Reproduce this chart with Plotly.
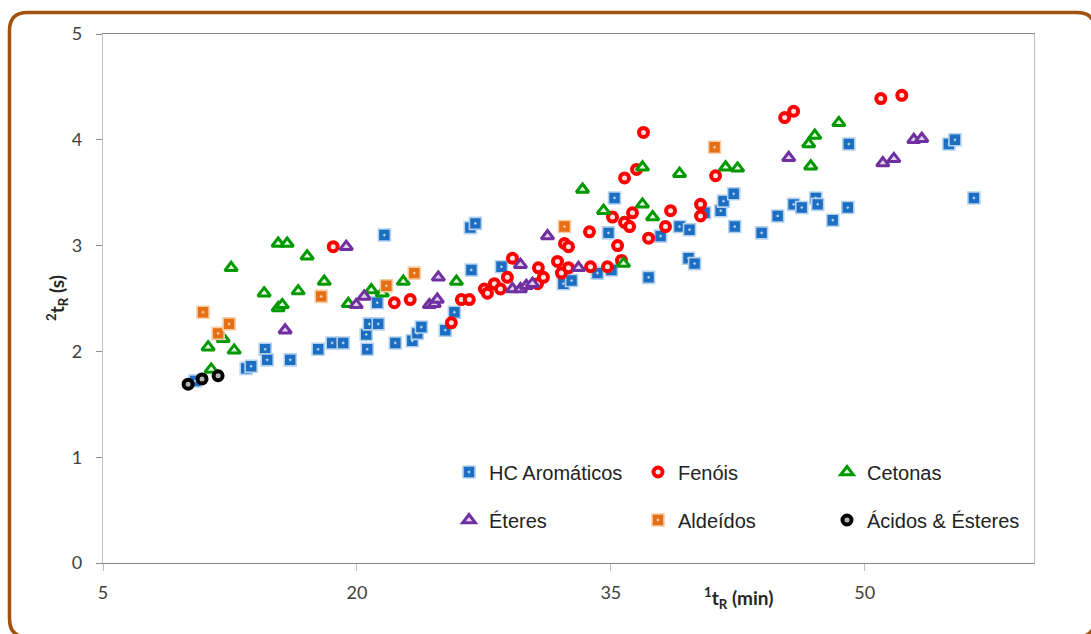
import plotly.graph_objects as go

# ---------------- data ----------------
hc_x = [10.44, 13.46, 13.75, 14.58, 14.70, 16.06, 17.71, 18.54, 19.19, 20.61, 20.55, 20.73, 21.26,
        21.20, 22.27, 23.27, 23.57, 23.81, 25.22, 21.62, 25.76, 26.70, 27.00, 26.76, 28.54, 32.20,
        32.68, 34.21, 35.04, 34.86, 35.22, 37.23, 37.94, 39.06, 39.65, 39.59, 39.95, 40.54, 41.49,
        41.66, 42.26, 42.32, 43.91, 44.86, 45.80, 46.28, 47.11, 47.22, 48.11, 49.00, 49.06, 54.97,
        55.33, 56.45]
hc_y = [1.72, 1.84, 1.86, 2.02, 1.92, 1.92, 2.02, 2.08, 2.08, 2.02, 2.16, 2.26, 2.26,
        2.46, 2.08, 2.10, 2.17, 2.23, 2.20, 3.10, 2.37, 3.17, 3.21, 2.77, 2.80, 2.64,
        2.67, 2.74, 2.77, 3.12, 3.45, 2.70, 3.09, 3.18, 3.15, 2.88, 2.83, 3.31, 3.33,
        3.42, 3.49, 3.18, 3.12, 3.28, 3.39, 3.36, 3.45, 3.39, 3.24, 3.36, 3.96, 3.96,
        4.00, 3.45]

fen_x = [18.60, 22.21, 23.15, 25.58, 26.17, 26.64, 27.53, 27.71, 28.12, 28.48, 28.89, 29.19, 30.67,
         30.72, 31.02, 31.85, 32.08, 32.26, 32.50, 32.50, 33.74, 33.80, 34.80, 35.10, 35.40, 35.63,
         35.81, 35.81, 36.11, 36.28, 36.52, 36.93, 37.23, 38.23, 38.53, 40.30, 40.30, 41.19, 45.27,
         45.80, 50.95, 52.19]
fen_y = [2.99, 2.46, 2.49, 2.27, 2.49, 2.49, 2.59, 2.55, 2.64, 2.59, 2.70, 2.88, 2.64,
         2.79, 2.70, 2.85, 2.74, 3.02, 2.99, 2.79, 3.13, 2.80, 2.80, 3.27, 3.00, 2.86,
         3.64, 3.22, 3.18, 3.31, 3.72, 4.07, 3.07, 3.18, 3.33, 3.39, 3.28, 3.66, 4.21,
         4.27, 4.39, 4.42]

cet_x = [11.21, 11.39, 12.10, 12.57, 12.75, 14.52, 15.35, 15.59, 15.35, 15.88, 16.53, 17.06, 18.07,
         19.49, 20.85, 21.50, 22.74, 25.88, 33.33, 34.57, 35.75, 36.87, 36.87, 37.47, 39.06, 41.78,
         42.49, 46.69, 47.05, 46.81, 48.47]
cet_y = [2.04, 1.83, 2.12, 2.79, 2.01, 2.55, 2.41, 2.44, 3.02, 3.02, 2.57, 2.90, 2.66,
         2.45, 2.58, 2.55, 2.66, 2.66, 3.53, 3.33, 2.83, 3.74, 3.39, 3.27, 3.68, 3.74,
         3.73, 3.96, 4.04, 3.75, 4.16]

ete_x = [15.76, 19.37, 19.96, 20.43, 24.28, 24.57, 24.75, 24.81, 29.19, 29.66, 30.01, 30.37, 29.66,
         31.26, 33.09, 45.51, 51.07, 51.72, 52.90, 53.37]
ete_y = [2.20, 2.99, 2.44, 2.52, 2.44, 2.45, 2.49, 2.70, 2.59, 2.59, 2.62, 2.64, 2.82,
         3.09, 2.79, 3.83, 3.78, 3.82, 4.00, 4.01]

ald_x = [10.91, 11.80, 12.45, 17.89, 21.74, 23.39, 32.26, 41.13]
ald_y = [2.37, 2.17, 2.26, 2.52, 2.62, 2.74, 3.18, 3.93]

ace_x = [10.03, 10.85, 11.80]
ace_y = [1.69, 1.74, 1.77]

x_ticks = [5, 20, 35, 50]
y_ticks = [0, 1, 2, 3, 4, 5]

# ---------------- figure ----------------
W, H = 1091, 634
PL, PR, PT, PB = 103, 1034, 34, 563


def px2x(px):
    return (px - PL) / (PR - PL)


def py2y(py):
    return (PB - py) / (PB - PT)


fig = go.Figure()

series = [
    ("HC Aromáticos", hc_x, hc_y, dict(symbol="square-dot", size=12, color="#1B6EC2",
                                         line=dict(color="#B4D2EE", width=1.6)), "legend", None),
    ("Fenóis", fen_x, fen_y, dict(symbol="circle", size=9, color="#FFE2E2",
                                   line=dict(color="#FF0000", width=4)), "legend", None),
    ("Cetonas", cet_x, cet_y, dict(symbol="triangle-up", size=11, color="#E3F5E3",
                                    line=dict(color="#009A00", width=3)), "legend", None),
    ("Éteres", ete_x, ete_y, dict(symbol="triangle-up", size=11, color="#E0D2EC",
                                   line=dict(color="#7030A0", width=3)), "legend2", None),
    ("Aldeídos", ald_x, ald_y, dict(symbol="square-dot", size=12, color="#E56F12",
                                     line=dict(color="#F8CDA6", width=1.6)), "legend2", None),
    ("Ácidos & Ésteres", ace_x, ace_y, dict(symbol="circle", size=9, color="#B4B4B4",
                                             line=dict(color="#000000", width=4)), "legend2", 175),
]

for name, xs, ys, mk, lg, lw in series:
    tr = go.Scatter(x=xs, y=ys, mode="markers", name=name, marker=mk, legend=lg)
    if lw:
        tr.legendwidth = lw
    fig.add_trace(tr)

legend_common = dict(
    orientation="h",
    entrywidth=144,
    entrywidthmode="pixels",
    font=dict(family="Liberation Sans, Arial, sans-serif", size=20, color="#222222"),
    bgcolor="rgba(0,0,0,0)",
    xanchor="left",
    yanchor="middle",
    traceorder="normal",
)

# rounded brown frame around the whole chart
L, T, R, B, r = 9.5, 12.5, 1095, 637, 18
path = (f"M {px2x(L + r)},{py2y(T)} H {px2x(R - r)} Q {px2x(R)},{py2y(T)} {px2x(R)},{py2y(T + r)} "
        f"V {py2y(B - r)} Q {px2x(R)},{py2y(B)} {px2x(R - r)},{py2y(B)} "
        f"H {px2x(L + r)} Q {px2x(L)},{py2y(B)} {px2x(L)},{py2y(B - r)} "
        f"V {py2y(T + r)} Q {px2x(L)},{py2y(T)} {px2x(L + r)},{py2y(T)} Z")

fig.update_layout(
    width=W, height=H,
    margin=dict(l=PL, r=W - PR, t=PT, b=H - PB),
    paper_bgcolor="white",
    plot_bgcolor="white",
    font=dict(family="Lato, sans-serif", color="#404040"),
    legend=dict(x=px2x(449), y=py2y(472), **legend_common),
    legend2=dict(x=px2x(449), y=py2y(520), **legend_common),
    shapes=[dict(type="path", xref="paper", yref="paper", path=path,
                 line=dict(color="#A0520F", width=3.5), layer="above")],
    annotations=[
        dict(text="<b><sup>1</sup>t<sub>R</sub> (min)</b>", xref="paper", yref="paper",
             x=px2x(738), y=py2y(598), xanchor="center", yanchor="middle", showarrow=False,
             font=dict(family="Lato, sans-serif", size=19, color="#262626")),
        dict(text="<b><sup>2</sup>t<sub>R</sub> (s)</b>", xref="paper", yref="paper",
             x=px2x(57), y=py2y(298), xanchor="center", yanchor="middle", showarrow=False,
             textangle=-90, font=dict(family="Lato, sans-serif", size=19, color="#262626")),
    ],
)

fig.update_xaxes(
    range=[5, 60], tickmode="array", tickvals=x_ticks, ticktext=[str(v) for v in x_ticks],
    showgrid=False, zeroline=False, showline=True, linecolor="#8C8C8C", linewidth=1.3,
    mirror=True, ticks="outside", ticklen=7, tickcolor="#BFBFBF",
    tickfont=dict(family="Lato, sans-serif", size=18, color="#404040"),
    ticklabelstandoff=6,
)
fig.update_yaxes(
    range=[0, 5], tickmode="array", tickvals=y_ticks, ticktext=[str(v) for v in y_ticks],
    showgrid=False, zeroline=False, showline=True, linecolor="#BFBFBF", linewidth=1.3,
    mirror=True, ticks="outside", ticklen=6, tickcolor="#8C8C8C",
    tickfont=dict(family="Lato, sans-serif", size=18, color="#404040"),
    ticklabelstandoff=10,
)

fig.write_html("out.html")
